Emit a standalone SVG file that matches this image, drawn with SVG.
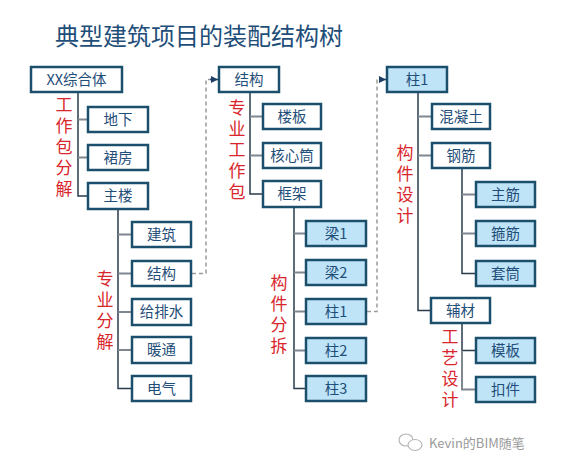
<svg xmlns="http://www.w3.org/2000/svg" width="575" height="472" viewBox="0 0 575 472">
<defs>
<marker id="arr" markerWidth="8" markerHeight="8" refX="7" refY="4" orient="auto" markerUnits="userSpaceOnUse">
<path d="M0,0.5 L7,4 L0,7.5 Z" fill="#1f3f66"/>
</marker>
<style>
.box{fill:#ffffff;stroke:#1b4f6b;stroke-width:2.5}
.blue{fill:#bfe4f8;stroke:#1b4f6b;stroke-width:2.5}
.t{font-family:"Noto Sans CJK SC","Liberation Sans",sans-serif;font-size:14.5px;fill:#1f4e79;text-anchor:middle}
.red{font-family:"Noto Sans CJK SC","Liberation Sans",sans-serif;font-size:17px;fill:#d9262c;writing-mode:vertical-rl;letter-spacing:4px}
.trunk{stroke:#2a3b4c;stroke-width:1.5;fill:none}
.br{stroke:#7f8890;stroke-width:2;fill:none}
.dash{stroke:#9a9a9a;stroke-width:1.5;stroke-dasharray:4 3;fill:none}
</style>
</defs>
<rect width="575" height="472" fill="#ffffff"/>
<text x="55" y="45" style="font-family:'Noto Sans CJK SC','Liberation Sans',sans-serif;font-size:24px;fill:#1f4e79">典型建筑项目的装配结构树</text>

<g id="connectors">
<path class="trunk" d="M78,92 V196 H88"/>
<path class="br" d="M78,119.5 H88 M78,157.5 H88"/>
<path class="trunk" d="M118,209 V388.5 H132"/>
<path class="br" d="M118,234.5 H132 M118,273.5 H132 M118,312 H132 M118,350 H132"/>
<path class="trunk" d="M250,92 V194 H263"/>
<path class="br" d="M250,116.5 H263 M250,155.5 H263"/>
<path class="trunk" d="M294,207 V388.5 H306"/>
<path class="br" d="M294,233.5 H306 M294,272.5 H306 M294,311.5 H306 M294,350.5 H306"/>
<path class="trunk" d="M418,92 V310.5 H432"/>
<path class="br" d="M418,116.5 H432 M418,155.5 H432"/>
<path class="trunk" d="M462,168 V273.5 H476"/>
<path class="br" d="M462,194.5 H476 M462,233.5 H476"/>
<path class="trunk" d="M462,323 V350.5 H476"/>
<path class="br" d="M462,350.5 V389.5 H476"/>
<path class="dash" d="M192,273.5 H206 V79.5 H211"/>
<path d="M210,79.5 H218" stroke="#1f3f66" stroke-width="1.5" marker-end="url(#arr)"/>
<path class="dash" d="M367,311.5 H377 V79.5 H380"/>
<path d="M379,79.5 H386" stroke="#1f3f66" stroke-width="1.5" marker-end="url(#arr)"/>
</g>

<g id="n-xx"><rect class="box" x="31" y="67" width="91" height="25"/><text class="t" x="76.5" y="85">XX综合体</text></g>
<g id="n-dixia"><rect class="box" x="88" y="107" width="60" height="25"/><text class="t" x="118" y="125">地下</text></g>
<g id="n-qunfang"><rect class="box" x="88" y="145" width="60" height="25"/><text class="t" x="118" y="163">裙房</text></g>
<g id="n-zhulou"><rect class="box" x="88" y="183" width="60" height="26"/><text class="t" x="118" y="201">主楼</text></g>

<g id="n-jianzhu"><rect class="box" x="132" y="222" width="59" height="25"/><text class="t" x="161.5" y="240">建筑</text></g>
<g id="n-jiegou1"><rect class="box" x="132" y="261" width="59" height="25"/><text class="t" x="161.5" y="279">结构</text></g>
<g id="n-geipaishui"><rect class="box" x="132" y="299" width="59" height="26"/><text class="t" x="161.5" y="317">给排水</text></g>
<g id="n-nuantong"><rect class="box" x="132" y="337" width="59" height="26"/><text class="t" x="161.5" y="355">暖通</text></g>
<g id="n-dianqi"><rect class="box" x="132" y="376" width="59" height="25"/><text class="t" x="161.5" y="394">电气</text></g>

<g id="n-jiegou2"><rect class="box" x="219" y="67" width="60" height="25"/><text class="t" x="249" y="85">结构</text></g>
<g id="n-louban"><rect class="box" x="263" y="104" width="58" height="25"/><text class="t" x="292" y="122">楼板</text></g>
<g id="n-hexintong"><rect class="box" x="263" y="143" width="58" height="25"/><text class="t" x="292" y="161">核心筒</text></g>
<g id="n-kuangjia"><rect class="box" x="263" y="181" width="58" height="26"/><text class="t" x="292" y="199">框架</text></g>

<g id="n-liang1"><rect class="blue" x="306" y="221" width="60" height="25"/><text class="t" x="336" y="239">梁1</text></g>
<g id="n-liang2"><rect class="blue" x="306" y="260" width="60" height="25"/><text class="t" x="336" y="278">梁2</text></g>
<g id="n-zhu1"><rect class="blue" x="306" y="299" width="60" height="25"/><text class="t" x="336" y="317">柱1</text></g>
<g id="n-zhu2"><rect class="blue" x="306" y="338" width="60" height="25"/><text class="t" x="336" y="356">柱2</text></g>
<g id="n-zhu3"><rect class="blue" x="306" y="376" width="60" height="25"/><text class="t" x="336" y="394">柱3</text></g>

<g id="n-zhu1b"><rect class="blue" x="387" y="67" width="60" height="25"/><text class="t" x="417" y="85">柱1</text></g>
<g id="n-hunningtu"><rect class="box" x="432" y="104" width="58" height="25"/><text class="t" x="461" y="122">混凝土</text></g>
<g id="n-gangjin"><rect class="box" x="432" y="143" width="58" height="25"/><text class="t" x="461" y="161">钢筋</text></g>
<g id="n-zhujin"><rect class="blue" x="476" y="182" width="59" height="25"/><text class="t" x="505.5" y="200">主筋</text></g>
<g id="n-gujin"><rect class="blue" x="476" y="221" width="59" height="25"/><text class="t" x="505.5" y="239">箍筋</text></g>
<g id="n-taotong"><rect class="blue" x="476" y="261" width="59" height="25"/><text class="t" x="505.5" y="279">套筒</text></g>
<g id="n-fucai"><rect class="box" x="431" y="298" width="59" height="25"/><text class="t" x="460.5" y="316">辅材</text></g>
<g id="n-muban"><rect class="blue" x="476" y="338" width="59" height="25"/><text class="t" x="505.5" y="356">模板</text></g>
<g id="n-koujian"><rect class="blue" x="476" y="377" width="59" height="25"/><text class="t" x="505.5" y="395">扣件</text></g>

<g id="labels">
<text class="red" x="64" y="96">工作包分解</text>
<text class="red" x="105" y="270">专业分解</text>
<text class="red" x="237" y="99">专业工作包</text>
<text class="red" x="279" y="274">构件分拆</text>
<text class="red" x="405" y="144">构件设计</text>
<text class="red" x="450" y="328">工艺设计</text>
</g>

<g id="watermark">
<ellipse cx="406" cy="440" rx="7" ry="6" fill="none" stroke="#b5b5b5" stroke-width="1.2"/>
<ellipse cx="415" cy="445" rx="7" ry="5.5" fill="#ffffff" stroke="#b5b5b5" stroke-width="1.2"/>
<text x="429" y="448" style="font-family:'Noto Sans CJK SC','Liberation Sans',sans-serif;font-size:13px;fill:#9a9a9a">Kevin的BIM随笔</text>
</g>
</svg>
